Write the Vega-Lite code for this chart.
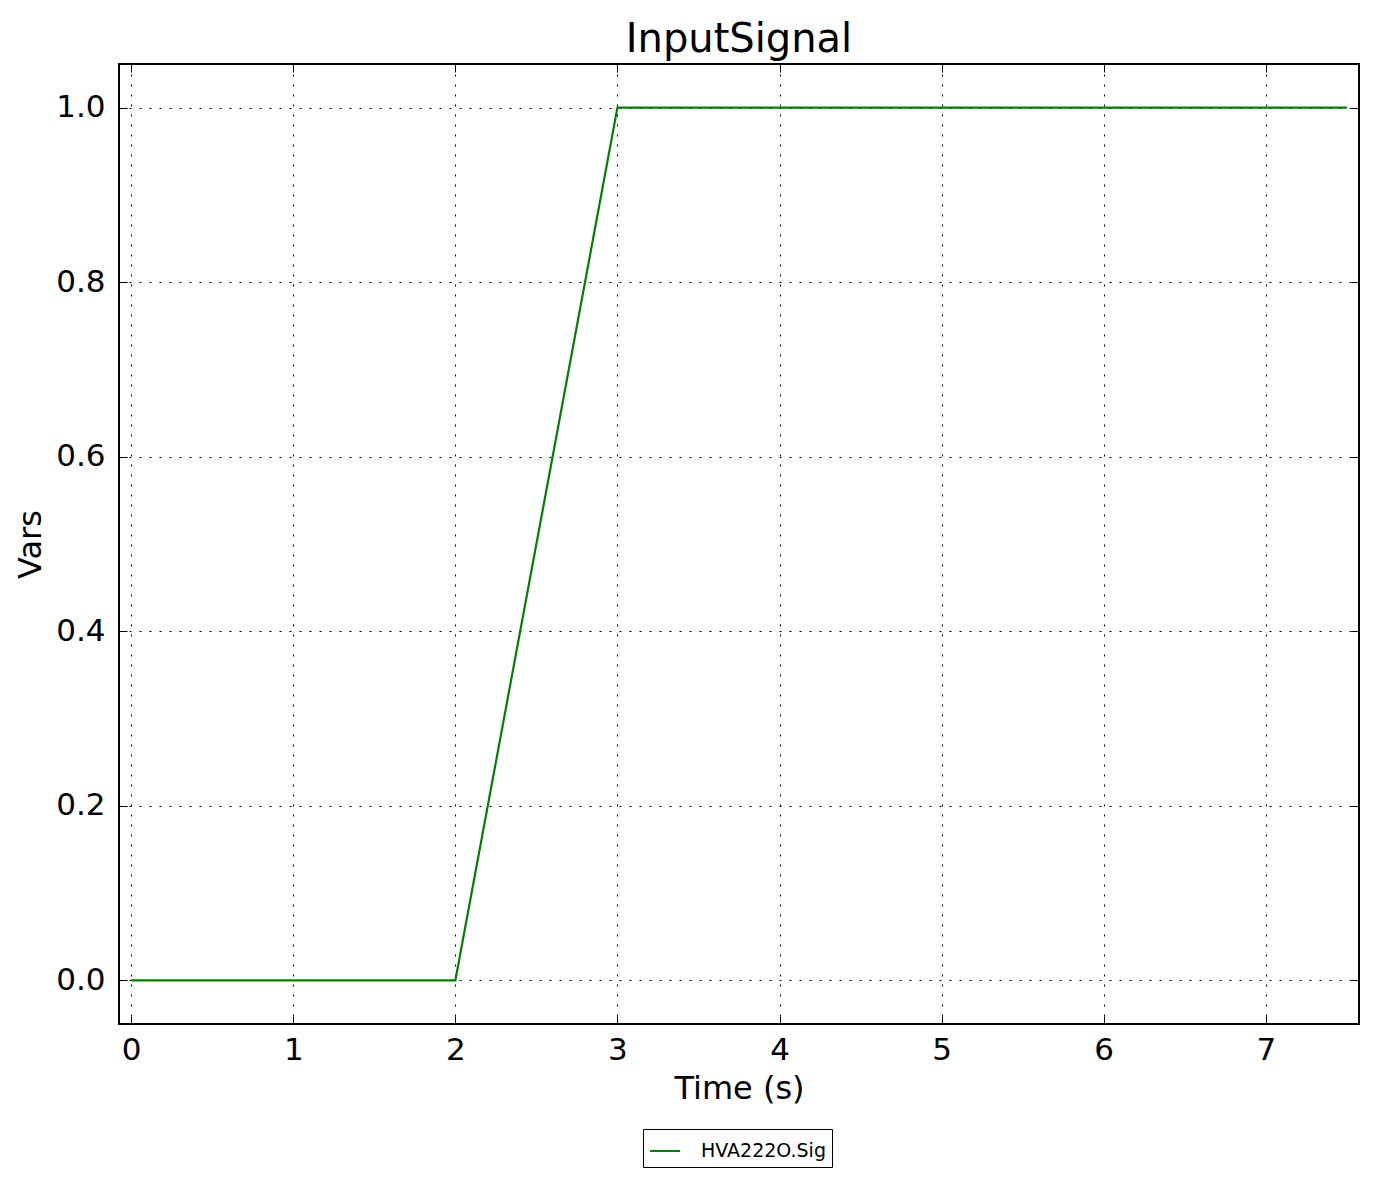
{
  "$schema": "https://vega.github.io/schema/vega-lite/v6.json",
  "width": 1240,
  "height": 960,
  "autosize": {"type": "none"},
  "padding": {"left": 119, "top": 64, "right": 20, "bottom": 160},
  "background": "white",
  "config": {
    "font": "DejaVu Sans",
    "view": {"stroke": "black", "strokeWidth": 2},
    "axis": {
      "domain": false,
      "labelFont": "DejaVu Sans",
      "titleFont": "DejaVu Sans",
      "labelColor": "black",
      "titleColor": "black",
      "labelFontSize": 31,
      "titleFontSize": 32,
      "titleFontWeight": "normal",
      "tickColor": "black",
      "tickWidth": 1,
      "tickSize": -8,
      "gridColor": "black",
      "gridOpacity": 1,
      "gridDash": [2, 8],
      "gridWidth": 1
    }
  },
  "title": {
    "text": "InputSignal",
    "fontSize": 40,
    "font": "DejaVu Sans",
    "fontWeight": "normal",
    "color": "black",
    "offset": 4
  },
  "data": {
    "values": [
      {"t": 0, "v": 0, "series": "HVA222O.Sig"},
      {"t": 2, "v": 0, "series": "HVA222O.Sig"},
      {"t": 3, "v": 1, "series": "HVA222O.Sig"},
      {"t": 7.5, "v": 1, "series": "HVA222O.Sig"}
    ]
  },
  "resolve": {"axis": {"x": "independent", "y": "independent"}},
  "layer": [
    {
      "mark": {"type": "line", "strokeWidth": 2.2},
      "encoding": {
        "x": {
          "field": "t",
          "type": "quantitative",
          "scale": {"domain": [-0.075, 7.575], "nice": false, "zero": false},
          "axis": {"title": "Time (s)", "values": [0, 1, 2, 3, 4, 5, 6, 7], "format": "d", "labelPadding": 19, "titlePadding": 8}
        },
        "y": {
          "field": "v",
          "type": "quantitative",
          "scale": {"domain": [-0.05, 1.05], "nice": false, "zero": false},
          "axis": {"title": "Vars", "values": [0, 0.2, 0.4, 0.6, 0.8, 1.0], "format": ".1f", "labelPadding": 22, "titlePadding": 8}
        },
        "color": {
          "field": "series",
          "type": "nominal",
          "scale": {"domain": ["HVA222O.Sig"], "range": ["#008000"]},
          "legend": {
            "title": null,
            "orient": "none",
            "legendX": 524,
            "legendY": 1065,
            "symbolType": "stroke",
            "symbolStrokeWidth": 2,
            "symbolSize": 900,
            "labelFontSize": 19,
            "labelFont": "DejaVu Sans",
            "labelColor": "black",
            "strokeColor": "black",
            "padding": 6,
            "fillColor": "white",
            "labelOffset": 20
          }
        }
      }
    },
    {
      "mark": {"type": "line", "opacity": 0},
      "encoding": {
        "x": {
          "field": "t",
          "type": "quantitative",
          "axis": {"orient": "top", "title": null, "labels": false, "grid": false, "values": [0, 1, 2, 3, 4, 5, 6, 7]}
        },
        "y": {
          "field": "v",
          "type": "quantitative",
          "axis": {"orient": "right", "title": null, "labels": false, "grid": false, "values": [0, 0.2, 0.4, 0.6, 0.8, 1.0]}
        }
      }
    }
  ]
}
